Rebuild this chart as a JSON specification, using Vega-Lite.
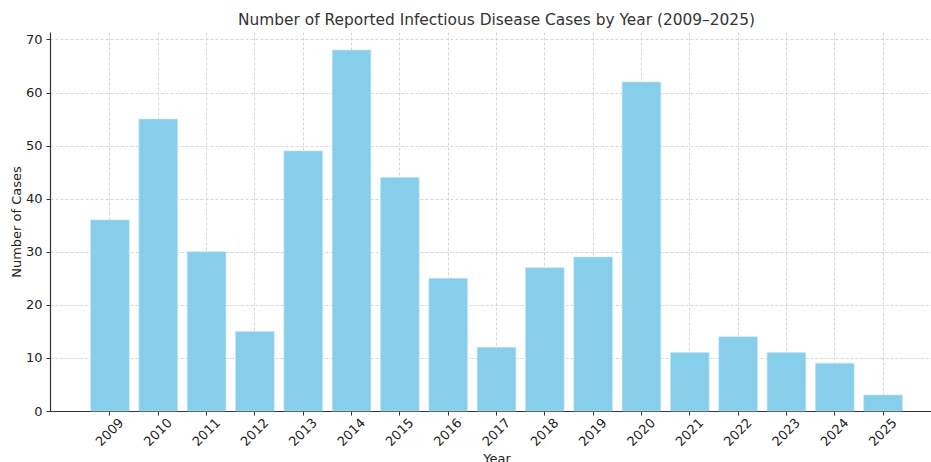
{
  "$schema": "https://vega.github.io/schema/vega-lite/v6.json",
  "width": 893,
  "height": 379,
  "autosize": {"type": "none"},
  "padding": {"left": 50, "top": 32, "right": 0, "bottom": 51},
  "background": "white",
  "config": {
    "font": "DejaVu Sans",
    "view": {"stroke": null},
    "axis": {
      "labelFont": "DejaVu Sans",
      "titleFont": "DejaVu Sans",
      "labelFontSize": 13,
      "titleFontSize": 13,
      "titleFontWeight": "normal",
      "labelColor": "#222",
      "titleColor": "#222",
      "domainColor": "#333",
      "domainWidth": 1.2,
      "tickColor": "#333",
      "tickSize": 4,
      "gridColor": "#cccccc",
      "gridDash": [3, 2],
      "gridWidth": 0.8,
      "zindex": 1
    }
  },
  "title": {
    "text": "Number of Reported Infectious Disease Cases by Year (2009–2025)",
    "font": "DejaVu Sans",
    "fontSize": 15.4,
    "fontWeight": "normal",
    "color": "#333",
    "anchor": "middle",
    "offset": 4
  },
  "data": {
    "values": [
      {"Year": "2009", "Cases": 36},
      {"Year": "2010", "Cases": 55},
      {"Year": "2011", "Cases": 30},
      {"Year": "2012", "Cases": 15},
      {"Year": "2013", "Cases": 49},
      {"Year": "2014", "Cases": 68},
      {"Year": "2015", "Cases": 44},
      {"Year": "2016", "Cases": 25},
      {"Year": "2017", "Cases": 12},
      {"Year": "2018", "Cases": 27},
      {"Year": "2019", "Cases": 29},
      {"Year": "2020", "Cases": 62},
      {"Year": "2021", "Cases": 11},
      {"Year": "2022", "Cases": 14},
      {"Year": "2023", "Cases": 11},
      {"Year": "2024", "Cases": 9},
      {"Year": "2025", "Cases": 3}
    ]
  },
  "mark": {"type": "bar", "color": "#87CEEB", "stroke": "#bfe6f5", "strokeWidth": 0.6},
  "encoding": {
    "x": {
      "field": "Year",
      "type": "ordinal",
      "scale": {"paddingInner": 0.2, "paddingOuter": 0.84},
      "axis": {
        "title": "Year",
        "titlePadding": 4,
        "labelAngle": -45,
        "labelAlign": "center",
        "labelBaseline": "middle",
        "labelPadding": 17,
        "bandPosition": 0.5,
        "grid": true
      }
    },
    "y": {
      "field": "Cases",
      "type": "quantitative",
      "scale": {"domain": [0, 71.4], "nice": false},
      "axis": {
        "title": "Number of Cases",
        "values": [0, 10, 20, 30, 40, 50, 60, 70],
        "grid": true,
        "labelPadding": 4,
        "titlePadding": 2
      }
    }
  }
}
